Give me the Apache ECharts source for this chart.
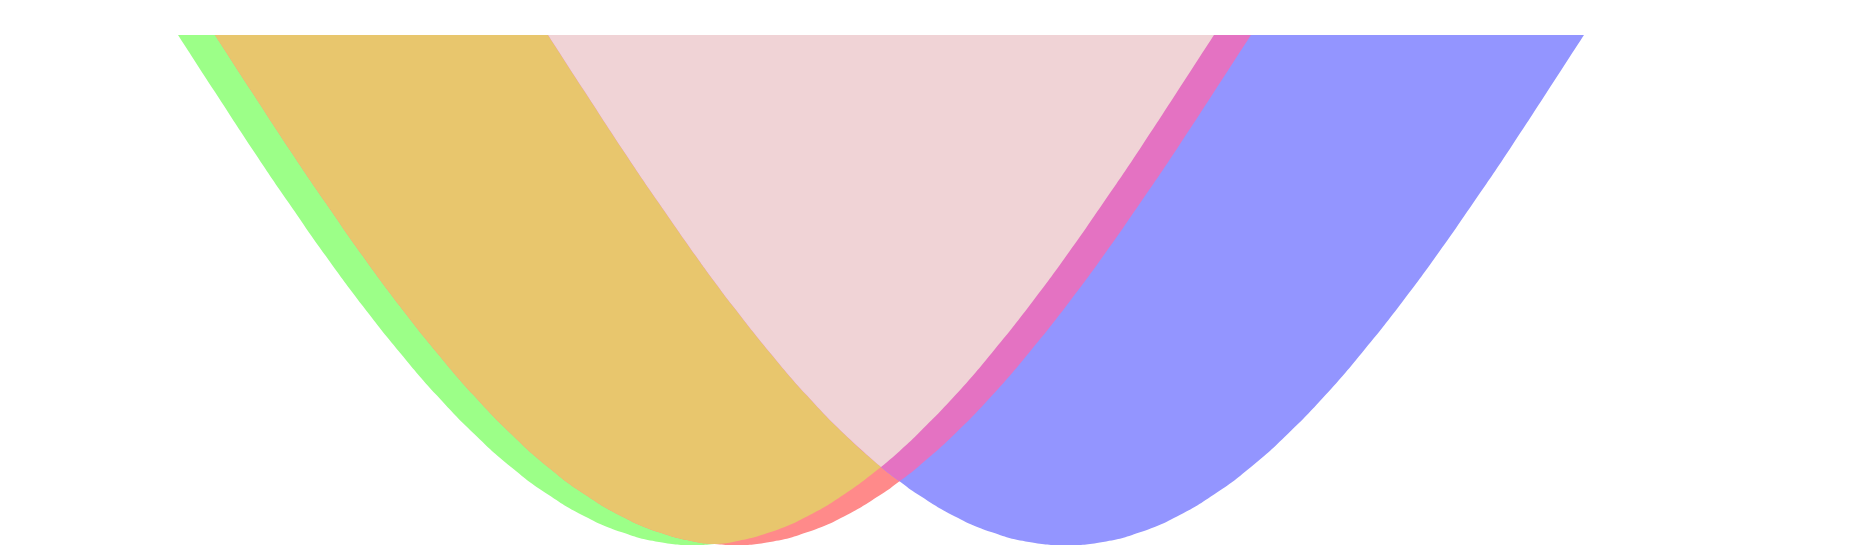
<!DOCTYPE html>
<html>
<head>
<meta charset="utf-8">
<script src="https://cdn.jsdelivr.net/npm/echarts@6/dist/echarts.min.js"></script>
<style>
    html, body { margin: 0; padding: 0; background: #fff; }
    #main { width: 1859px; height: 550px; }
</style>
</head>
<body>
<div id="main"></div>
<script>
// x positions shared by all three curves (18.5 and 23.5 are where curves cross)
let xs = [4, 5, 6, 7, 8, 9, 10, 11, 12, 13, 14, 15, 16, 17, 18, 18.5, 19, 20, 21, 22, 23, 23.5,
    24, 25, 26, 27, 28, 29, 30, 31, 32, 33, 34, 35, 36, 37, 38, 39, 40, 41, 42];

let greenVals = [0, -0.112, -0.223, -0.330, -0.434, -0.532, -0.623, -0.707, -0.782, -0.847,
    -0.901, -0.944, -0.975, -0.994, -1, -0.998, -0.994, -0.975, -0.944, -0.901, -0.847, -0.816,
    -0.782, -0.707, -0.623, -0.532, -0.434, -0.330, -0.223, -0.112, 0,
    null, null, null, null, null, null, null, null, null, null];

let redVals = [null,
    0, -0.112, -0.223, -0.330, -0.434, -0.532, -0.623, -0.707, -0.782, -0.847,
    -0.901, -0.944, -0.975, -0.994, -0.998, -1, -0.994, -0.975, -0.944, -0.901, -0.875,
    -0.847, -0.782, -0.707, -0.623, -0.532, -0.434, -0.330, -0.223, -0.112, 0,
    null, null, null, null, null, null, null, null, null];

let blueVals = [null, null, null, null, null, null, null, null, null, null,
    0, -0.112, -0.223, -0.330, -0.434, -0.484, -0.532, -0.623, -0.707, -0.782, -0.847, -0.875,
    -0.901, -0.944, -0.975, -0.994, -1, -0.994, -0.975, -0.944, -0.901, -0.847,
    -0.782, -0.707, -0.623, -0.532, -0.434, -0.330, -0.223, -0.112, 0];

// colours of each region (single areas and where they overlap)
let colorGreen = '#9cff88';
let colorRed = '#ff8a8a';
let colorBlue = '#9395ff';
let colorGreenRed = '#e8c66d';
let colorRedBlue = '#e472c2';
let colorAll = '#f0d3d6';

let pairs = (values) => xs.map((x, i) => [x, values[i]]);

// overlap of several areas = the part above the highest of their curves,
// broken where two curves cross so the corner stays sharp
let overlap = (...lists) => {
    let data = [];
    xs.forEach((x, i) => {
        let vals = lists.map(l => l[i]);
        if (vals.some(v => v == null)) {
            data.push([x, null]);
            return;
        }
        let top = Math.max(...vals);
        let ties = vals.filter(v => v === top).length;
        if (ties > 1) {
            data.push([x, top], [x, null], [x, top]);
        } else {
            data.push([x, top]);
        }
    });
    return data;
}

let makeArea = (name, data, color) => {
    return {
        name: name,
        type: 'line',
        data: data,
        smooth: 0.5,
        smoothMonotone: 'none',
        symbol: 'none',
        showSymbol: false,
        silent: true,
        lineStyle: {
            width: 0
        },
        areaStyle: {
            color: color,
            opacity: 1,
            origin: 'end'
        }
    };
}

let myChart = echarts.init(document.getElementById('main'));
let option = {
    animation: false,
    grid: {
        left: 30,
        right: 16,
        top: 35,
        bottom: 5
    },
    xAxis: {
        type: 'value',
        min: 0,
        max: 49,
        show: false
    },
    yAxis: {
        type: 'value',
        min: -1,
        max: 0,
        show: false
    },
    series: [
        makeArea('green', pairs(greenVals), colorGreen),
        makeArea('red', pairs(redVals), colorRed),
        makeArea('blue', pairs(blueVals), colorBlue),
        makeArea('green+red', overlap(greenVals, redVals), colorGreenRed),
        makeArea('red+blue', overlap(redVals, blueVals), colorRedBlue),
        makeArea('all', overlap(greenVals, redVals, blueVals), colorAll)
    ]
};
myChart.setOption(option);
</script>
</body>
</html>
